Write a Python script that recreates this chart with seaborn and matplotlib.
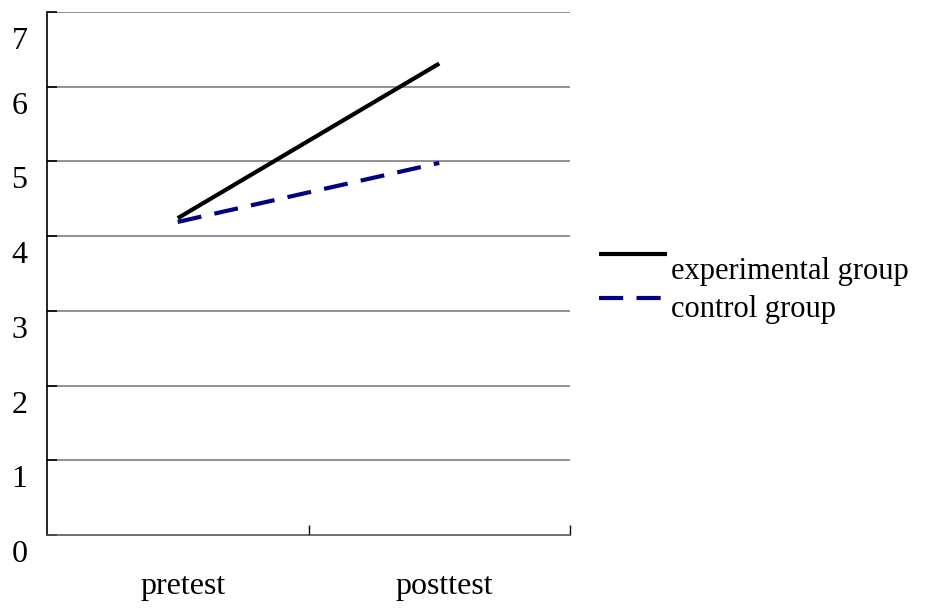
import matplotlib
matplotlib.use("Agg")
import matplotlib.pyplot as plt
import matplotlib.transforms as mtransforms
import seaborn as sns
import pandas as pd

# data
tests = ["pretest", "posttest"]
experimental = [4.24, 6.31]
control = [4.19, 4.98]
groups = ["experimental group", "control group"]

df = pd.DataFrame({
    "test": tests * 2,
    "score": experimental + control,
    "group": [groups[0]] * 2 + [groups[1]] * 2,
})

sns.set_style("white")
plt.rcParams["font.family"] = ["Liberation Serif", "DejaVu Serif"]
plt.rcParams["text.color"] = "black"
plt.rcParams["xtick.color"] = "black"
plt.rcParams["ytick.color"] = "black"

fig = plt.figure(figsize=(9.27, 6.08), dpi=100)
ax = fig.add_axes([0.0507, 0.1201, 0.5642, 0.8602])

sns.lineplot(data=df, x="test", y="score", hue="group", style="group",
             palette={groups[0]: "black", groups[1]: "#000080"},
             dashes={groups[0]: "", groups[1]: (5.8, 3.2)},
             linewidth=3, sort=False, ax=ax)
for ln in ax.get_lines():
    ln.set_solid_capstyle("butt")

ax.set_xlim(-0.5, 1.5)
ax.set_ylim(0, 7)
ax.set_yticks(range(0, 8))
ax.set_xticks([0, 1])
ax.set_xticklabels(tests)
ax.set_xticks([0.5, 1.5], minor=True)
ax.set_xlabel("")
ax.set_ylabel("")

for y in range(1, 8):
    ax.axhline(y, color="#7f7f7f", linewidth=1.2, zorder=0)

for s in ["top", "right"]:
    ax.spines[s].set_visible(False)
ax.spines["left"].set_color("black")
ax.spines["left"].set_linewidth(1.2)
ax.spines["bottom"].set_color("#555555")
ax.spines["bottom"].set_linewidth(1.2)

ax.tick_params(axis="y", direction="in", length=7, width=1.2, color="black",
               labelsize=23, pad=14, left=True, labelcolor="black")
ax.tick_params(axis="x", which="major", length=0, labelsize=23, pad=27,
               labelcolor="black")
ax.tick_params(axis="x", which="minor", direction="in", length=7, width=1,
               color="black", bottom=True)

# labels sit a bit below their gridlines in the original
for lab in ax.get_yticklabels():
    dy = 26 if lab.get_text() == "7" else 16
    off = mtransforms.ScaledTranslation(0, -dy / 100, fig.dpi_scale_trans)
    lab.set_transform(lab.get_transform() + off)
for lab in ax.get_xticklabels():
    off = mtransforms.ScaledTranslation(5 / 100, 0, fig.dpi_scale_trans)
    lab.set_transform(lab.get_transform() + off)

leg = ax.legend(loc="upper left", bbox_to_anchor=(1.033, 0.555), frameon=False,
                fontsize=22, handlelength=2.2, handletextpad=0.15,
                labelspacing=0.3, borderaxespad=0)
for t in leg.get_texts():
    t.set_color("black")
for h, dy in zip(leg.get_lines(), [14, 8]):
    h.set_linewidth(3)
    h.set_solid_capstyle("butt")
    h.set_transform(h.get_transform()
                    + mtransforms.ScaledTranslation(0, dy / 100, fig.dpi_scale_trans))

fig.savefig("out.png", dpi=100)
